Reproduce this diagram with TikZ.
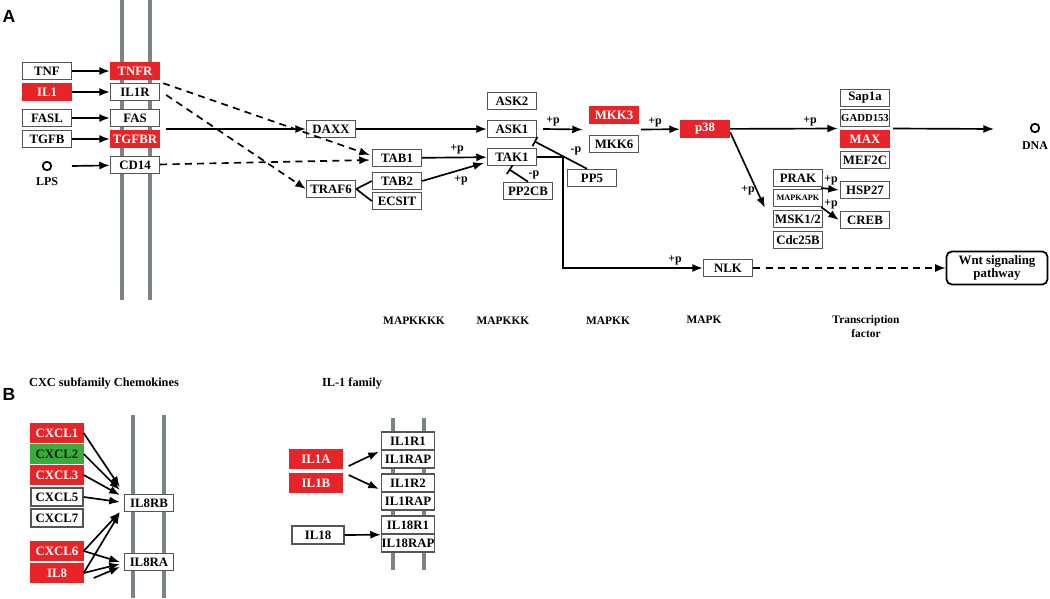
\documentclass[tikz,border=0pt]{standalone}
\usepackage{fontspec}
\setmainfont{Liberation Serif}
\setsansfont{Liberation Sans}
\usetikzlibrary{calc,arrows.meta}
\definecolor{kred}{RGB}{232,36,40}
\definecolor{kgreen}{RGB}{58,172,60}
\definecolor{kgray}{RGB}{85,85,85}
\definecolor{memb}{RGB}{122,132,132}
\tikzset{
  gene/.style={draw=kgray,line width=0.8pt,fill=white,minimum width=0.98cm,minimum height=0.34cm,inner sep=0pt,font=\bfseries\fontsize{7.3}{7}\selectfont},
  hit/.style={gene,fill=kred,draw=kred,text=white},
  upgene/.style={gene,fill=kgreen,draw=kgreen,text=black!80!kgreen},
  memline/.style={draw=memb,line width=2.8pt},
  act/.style={-{Latex[length=6pt,width=4.6pt]},line width=0.95pt},
  ind/.style={act,dash pattern=on 4pt off 3pt},
  inh/.style={-{Bar[width=6pt]},line width=0.95pt},
  plab/.style={font=\bfseries\fontsize{6.8}{7}\selectfont,inner sep=0pt},
  tier/.style={font=\bfseries\fontsize{6.5}{8}\selectfont,align=center,inner sep=0pt},
  cmpd/.style={circle,draw,line width=1pt,minimum size=0.17cm,inner sep=0pt}
}
\begin{document}
\begin{tikzpicture}[x=0.02cm,y=-0.02cm]
\useasboundingbox (0,0) rectangle (1050,598);
\node[font=\sffamily\bfseries\fontsize{10}{10}\selectfont] (labA) at (9,16) {A};
\draw[memline] (122,0) -- (122,300);
\draw[memline] (150,0) -- (150,300);
\node[gene] (tnf) at (47,71) {TNF};
\node[hit] (il1) at (47,92) {IL1};
\node[gene] (fasl) at (47,118) {FASL};
\node[gene] (tgfb) at (47,139) {TGFB};
\node[cmpd] (lps) at (47,166) {};
\node[plab] (lpsl) at (47,182) {LPS};
\node[hit] (tnfr) at (135,71) {TNFR};
\node[gene] (il1r) at (135,92) {IL1R};
\node[gene] (fas) at (135,118) {FAS};
\node[hit] (tgfbr) at (135,139) {TGFBR};
\node[gene] (cd14) at (135,165) {CD14};
\draw[act] (tnf) -- (tnfr);
\draw[act] (il1) -- (il1r);
\draw[act] (fasl) -- (fas);
\draw[act] (tgfb) -- (tgfbr);
\draw[act] ($(lps)+(25,0)$) -- (cd14);
\node[gene] (daxx) at (331,129) {DAXX};
\node[gene] (traf6) at (331,189) {TRAF6};
\node[gene] (tab1) at (397,158) {TAB1};
\node[gene] (tab2) at (397,181) {TAB2};
\node[gene] (ecsit) at (397,201) {ECSIT};
\node[gene] (ask2) at (512,101) {ASK2};
\node[gene] (ask1) at (512,129) {ASK1};
\node[gene] (tak1) at (512,157) {TAK1};
\node[gene] (pp2cb) at (528,191) {PP2CB};
\node[gene] (pp5) at (592,178) {PP5};
\node[hit] (mkk3) at (614,115) {MKK3};
\node[gene] (mkk6) at (614,144) {MKK6};
\node[hit] (p38) at (705,129) {p38};
\node[gene] (sap1a) at (865,98) {Sap1a};
\node[gene,font=\bfseries\fontsize{6.1}{7}\selectfont] (gadd153) at (865,118) {GADD153};
\node[hit] (max) at (865,139) {MAX};
\node[gene] (mef2c) at (865,160) {MEF2C};
\node[gene] (prak) at (798,178) {PRAK};
\node[gene,font=\bfseries\fontsize{4.7}{5}\selectfont] (mapkapk) at (798,198) {MAPKAPK};
\node[gene] (msk) at (798,219) {MSK1/2};
\node[gene] (cdc25b) at (798,240) {Cdc25B};
\node[gene] (hsp27) at (865,190) {HSP27};
\node[gene] (creb) at (865,220) {CREB};
\node[gene] (nlk) at (728,268) {NLK};
\node[gene,draw=black,line width=1pt,rounded corners=3pt,minimum width=2.02cm,minimum height=0.66cm,align=center] (wnt) at (997,268) {Wnt signaling\\pathway};
\node[cmpd] (dna) at (1035,128) {};
\node[plab] (dnal) at (1035,146) {DNA};
\coordinate (fasout) at (166,129);
\coordinate (dnain) at (994,129);
\draw[act] (fasout) -- (daxx);
\draw[ind] ($(tnfr.south east)+(3,3)$) -- ($(tab1.west)+(-2,-3)$);
\draw[ind] ($(il1r.east)+(6,3)$) -- (traf6.west);
\draw[ind] (cd14) -- ($(tab1.west)+(-2,2)$);
\draw[act] (daxx) -- (ask1);
\draw[line width=0.95pt] (traf6.east) -- (tab2.west);
\draw[line width=0.95pt] (traf6.east) -- (ecsit.west);
\draw[act] (tab1) -- (tak1);
\node[plab] (p1) at (457,149) {+p};
\draw[act] (tab2.east) -- ($(tak1.west)+(-3,6)$);
\node[plab] (p2) at (461,180) {+p};
\draw[act] ($(ask1.east)+(6,0)$) -- ($(mkk3.south west)!0.5!(mkk6.north west)+(-6,0)$);
\node[plab] (p3) at (553,121) {+p};
\draw[inh] ($(pp5.north)+(-5,0)$) -- ($(ask1.south east)+(-3,3)$);
\node[plab] (m1) at (576,151) {-p};
\draw[inh] (pp2cb.north) -- ($(tak1.south)+(-3,3)$);
\node[plab] (m2) at (534,175) {-p};
\draw[act] ($(mkk3.south east)!0.5!(mkk6.north east)+(2,0)$) -- (p38);
\node[plab] (p4) at (655,122) {+p};
\draw[act] (tak1.east) -- ++(26,0) |- (nlk.west);
\node[plab] (p5) at (675,260) {+p};
\draw[ind] (nlk) -- (wnt);
\draw[act] (p38) -- ($(gadd153.south west)!0.5!(max.north west)+(-2,0)$);
\node[plab] (p6) at (810,121) {+p};
\draw[act] ($(gadd153.south east)!0.5!(max.north east)+(3,0)$) -- (dnain);
\draw[act] ($(p38.south east)+(0,-6)$) -- ($(msk.north west)+(-8,-2)$);
\node[plab] (p7) at (748,190) {+p};
\draw[act] ($(prak.south east)!0.5!(mapkapk.north east)+(-2,0)$) -- ($(hsp27.west)+(-1,0)$);
\node[plab] (p8) at (831,180) {+p};
\draw[act] ($(mapkapk.south east)+(-2,0)$) -- ($(creb.west)+(-1,0)$);
\node[plab] (p9) at (831,204) {+p};
\node[tier] (t1) at (414,321) {MAPKKKK};
\node[tier] (t2) at (503,321) {MAPKKK};
\node[tier] (t3) at (608,321) {MAPKK};
\node[tier] (t4) at (704,320) {MAPK};
\node[tier] (t5) at (866,327) {Transcription\\factor};
\node[font=\sffamily\bfseries\fontsize{10}{10}\selectfont] (labB) at (9,394) {B};
\node[tier,font=\bfseries\fontsize{7}{8}\selectfont] (cxc) at (104,383) {CXC subfamily Chemokines};
\draw[memline] (133,415) -- (133,598);
\draw[memline] (164,415) -- (164,598);
\node[hit,minimum width=1.04cm,minimum height=0.36cm] (cxcl1) at (57,433) {CXCL1};
\node[upgene,minimum width=1.04cm,minimum height=0.36cm] (cxcl2) at (57,454) {CXCL2};
\node[hit,minimum width=1.04cm,minimum height=0.36cm] (cxcl3) at (57,475) {CXCL3};
\node[gene,minimum width=1.04cm,minimum height=0.36cm] (cxcl5) at (57,497) {CXCL5};
\node[gene,minimum width=1.04cm,minimum height=0.36cm] (cxcl7) at (57,518) {CXCL7};
\node[hit,minimum width=1.04cm,minimum height=0.36cm] (cxcl6) at (57,551) {CXCL6};
\node[hit,minimum width=1.04cm,minimum height=0.36cm] (il8) at (57,573) {IL8};
\node[gene] (il8rb) at (149,503) {IL8RB};
\node[gene] (il8ra) at (149,562) {IL8RA};
\draw[act] (cxcl1.east) -- ($(il8rb.west)+(-4,-16)$);
\draw[act] (cxcl2.east) -- ($(il8rb.west)+(-4,-13)$);
\draw[act] (cxcl3.east) -- ($(il8rb.west)+(-4,-8)$);
\draw[act] (cxcl5.east) -- ($(il8rb.west)+(-4,-1)$);
\draw[act] (cxcl6.east) -- ($(il8rb.west)+(-4,9)$);
\draw[act] (il8.east) -- ($(il8rb.west)+(-4,10)$);
\draw[act] (cxcl6.east) -- ($(il8ra.west)+(-4,0)$);
\draw[act] (il8.east) -- ($(il8ra.west)+(-4,2)$);
\draw[act] ($(il8.east)+(10,5)$) -- ($(il8ra.west)+(-4,5)$);
\node[tier,font=\bfseries\fontsize{7}{8}\selectfont] (il1fam) at (352,383) {IL-1 family};
\draw[memline] (393,418) -- (393,570);
\draw[memline] (424,418) -- (424,570);
\node[gene,minimum width=1.06cm,minimum height=0.36cm] (il1r1) at (408,441) {IL1R1};
\node[gene,minimum width=1.06cm,minimum height=0.36cm] (il1rapa) at (408,459) {IL1RAP};
\node[gene,minimum width=1.06cm,minimum height=0.36cm] (il1r2) at (408,483) {IL1R2};
\node[gene,minimum width=1.06cm,minimum height=0.36cm] (il1rapb) at (408,501) {IL1RAP};
\node[gene,minimum width=1.06cm,minimum height=0.36cm] (il18r1) at (408,525) {IL18R1};
\node[gene,minimum width=1.06cm,minimum height=0.36cm] (il18rap) at (408,543) {IL18RAP};
\node[hit,minimum width=1.04cm,minimum height=0.36cm] (il1a) at (316,459) {IL1A};
\node[hit,minimum width=1.04cm,minimum height=0.36cm] (il1b) at (316,483) {IL1B};
\node[gene,minimum width=1.04cm,minimum height=0.36cm] (il18) at (318,535) {IL18};
\draw[act] ($(il1a.east)+(6,7)$) -- ($(il1r1.south west)+(-2,1)$);
\draw[act] ($(il1b.east)+(6,-8)$) -- ($(il1r2.west)+(-2,6)$);
\draw[act] (il18.east) -- (il18r1.south west);
\end{tikzpicture}
\end{document}
